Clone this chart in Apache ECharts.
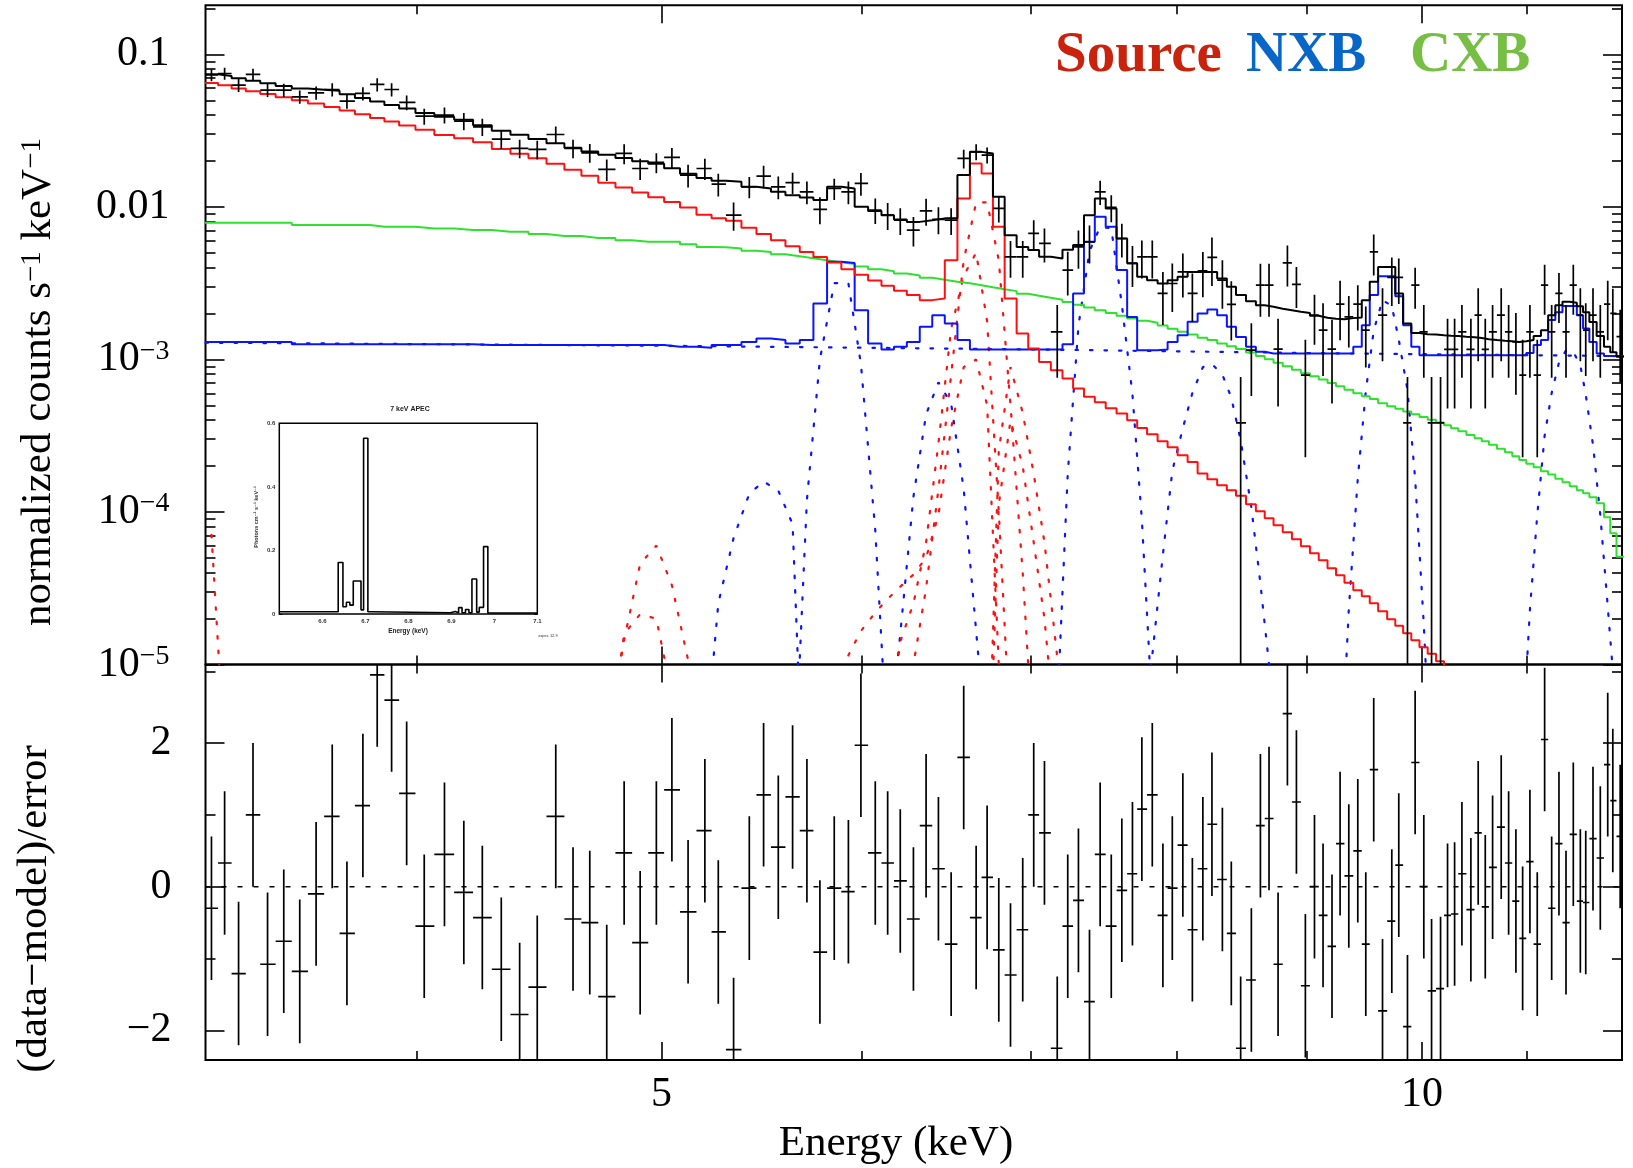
<!DOCTYPE html>
<html>
<head>
<meta charset="utf-8">
<title>Spectrum with residuals</title>
<script src="https://cdn.jsdelivr.net/npm/echarts@6/dist/echarts.min.js"></script>
<style>
  html, body { margin: 0; padding: 0; background: #fff; }
  #chart { width: 1633px; height: 1168px; }
</style>
</head>
<body>
<div id="chart"></div>
<script>
// Spectrum (normalized counts s^-1 keV^-1) with source / NXB / CXB models,
// residual panel below and the small 7 keV APEC inset.
// Model and data levels are kept as log10(counts s^-1 keV^-1).

// bin centres (keV)
const binEnergy = [
  3.318, 3.358, 3.401, 3.446, 3.492, 3.544, 3.596, 3.650, 3.704, 3.754, 3.809, 3.859, 3.910, 3.964, 4.028, 4.103,
  4.176, 4.247, 4.321, 4.394, 4.465, 4.541, 4.613, 4.684, 4.757, 4.833, 4.904, 4.977, 5.048, 5.123, 5.202, 5.266,
  5.340, 5.417, 5.488, 5.562, 5.635, 5.709, 5.777, 5.853, 5.929, 5.997, 6.076, 6.145, 6.216, 6.291, 6.364, 6.436,
  6.511, 6.586, 6.661, 6.728, 6.800, 6.873, 6.950, 7.020, 7.089, 7.172, 7.241, 7.312, 7.386, 7.458, 7.534, 7.607,
  7.681, 7.747, 7.821, 7.897, 7.965, 8.042, 8.112, 8.190, 8.258, 8.337, 8.405, 8.477, 8.560, 8.631, 8.699, 8.771,
  8.846, 8.919, 8.992, 9.067, 9.138, 9.213, 9.281, 9.355, 9.432, 9.501, 9.570, 9.647, 9.729, 9.791, 9.869, 9.938,
  10.017, 10.088, 10.171, 10.236, 10.302, 10.371, 10.456, 10.526, 10.594, 10.665, 10.749, 10.822, 10.894, 10.961,
  11.034, 11.108, 11.183, 11.255, 11.330, 11.403, 11.479, 11.553, 11.610, 11.687, 11.765, 11.845, 11.900, 11.980
];

// observed spectrum, log10 value and relative 1-sigma error
const logData = [
  -1.135, -1.125, -1.201, -1.131, -1.234, -1.234, -1.278, -1.252, -1.230, -1.306, -1.256, -1.197, -1.230, -1.315, -1.405, -1.398,
  -1.437, -1.475, -1.555, -1.616, -1.623, -1.525, -1.616, -1.645, -1.754, -1.649, -1.748, -1.708, -1.675, -1.791, -1.748, -1.850,
  -2.054, -1.868, -1.798, -1.868, -1.840, -1.901, -2.016, -1.879, -1.901, -1.846, -2.021, -2.054, -2.087, -2.152, -2.026, -2.082,
  -2.087, -1.682, -1.639, -1.660, -2.010, -2.327, -2.327, -2.174, -2.239, -2.819, -2.414, -2.262, -2.229, -1.901, -2.003, -2.207,
  -2.370, -2.327, -2.327, -2.567, -2.502, -2.426, -2.567, -2.419, -2.331, -2.480, -2.639, -3.416, -2.939, -2.513, -2.513, -2.932,
  -2.367, -2.508, -3.103, -2.710, -2.808, -2.932, -2.637, -2.721, -2.637, -2.808, -2.294, -2.710, -2.462, -2.462, -3.416, -2.513,
  -2.819, -3.416, -3.416, -2.934, -2.934, -2.819, -2.934, -2.710, -2.934, -2.819, -2.710, -2.819, -2.885, -3.103,
  -2.819, -3.103, -2.513, -2.819, -2.567, -2.819, -2.513, -2.710, -2.808, -2.710, -2.819, -2.637, -2.698, -2.850
];
const dataErrFrac = [
  0.09, 0.09, 0.10, 0.09, 0.10, 0.10, 0.10, 0.10, 0.10, 0.11, 0.10, 0.10, 0.10, 0.11, 0.12, 0.12,
  0.13, 0.13, 0.14, 0.14, 0.14, 0.13, 0.14, 0.14, 0.16, 0.15, 0.16, 0.15, 0.15, 0.17, 0.16, 0.17,
  0.21, 0.16, 0.17, 0.17, 0.16, 0.17, 0.20, 0.16, 0.17, 0.17, 0.19, 0.20, 0.20, 0.22, 0.20, 0.20,
  0.20, 0.14, 0.12, 0.12, 0.19, 0.27, 0.27, 0.22, 0.25, 0.50, 0.32, 0.28, 0.28, 0.18, 0.20, 0.25,
  0.30, 0.28, 0.28, 0.38, 0.35, 0.32, 0.35, 0.33, 0.35, 0.35, 0.42, 1.00, 0.50, 0.38, 0.38, 0.58,
  0.30, 0.30, 0.71, 0.36, 0.50, 0.56, 0.42, 0.37, 0.33, 0.43, 0.30, 0.50, 0.35, 0.33, 1.00, 0.30,
  0.50, 1.00, 1.00, 0.59, 0.59, 0.50, 0.59, 0.50, 0.59, 0.50, 0.50, 0.50, 0.55, 0.71,
  0.50, 0.71, 0.36, 0.50, 0.36, 0.50, 0.36, 0.50, 0.50, 0.50, 0.50, 0.42, 0.45, 0.50
];

// (data - model) / error
const residual = [
  -0.30, 0.33, -1.21, 1.00, -1.08, -0.76, -1.18, -0.10, 0.98, -0.65, 1.13, 2.95, 2.60, 1.30, -0.55, 0.45,
  -0.08, -0.43, -1.15, -1.78, -1.40, 0.98, -0.45, -0.50, -1.53, 0.47, -0.78, 0.47, 1.35, -0.35, 0.78, -0.63,
  -2.27, -0.02, 1.28, 0.55, 1.25, 0.78, -0.91, -0.02, -0.07, 1.97, 0.47, 0.33, 0.08, -0.45, 0.85, 0.25,
  -0.80, 1.80, -0.43, 0.13, -0.88, -1.23, -0.60, 1.00, 0.75, -2.25, -0.55, -0.19, -1.60, 0.45, -0.55, -0.05,
  0.18, 1.08, 1.28, -0.40, -0.02, 0.58, -0.60, 0.25, 0.87, 0.10, -0.65, -2.25, -1.30, 0.85, 0.95, -1.08,
  2.41, 1.18, -1.38, 0.00, -0.40, -0.83, 0.60, 0.15, 0.50, -0.80, 1.63, -1.73, -0.48, 0.30, -1.95, 1.73,
  0.00, -1.45, -1.42, -0.40, -0.38, 0.18, -0.32, 0.75, -0.28, 0.27, 0.83, 0.33, -0.20, -0.72,
  0.35, -0.80, 2.05, -0.30, 0.60, -0.50, 0.73, -0.20, -0.22, 0.67, 0.40, 1.70, 1.20, 0.70
];

// folded models per bin (log10)
const logTotal = [
  -1.130, -1.141, -1.156, -1.172, -1.189, -1.207, -1.224, -1.231, -1.239, -1.261, -1.285, -1.308, -1.332, -1.355, -1.384, -1.409,
  -1.429, -1.464, -1.500, -1.526, -1.555, -1.583, -1.612, -1.636, -1.658, -1.679, -1.700, -1.717, -1.746, -1.782, -1.811, -1.828,
  -1.835, -1.868, -1.879, -1.901, -1.923, -1.938, -1.955, -1.868, -1.879, -1.999, -2.026, -2.054, -2.082, -2.098, -2.087, -2.075,
  -2.075, -1.791, -1.639, -1.650, -1.934, -2.185, -2.262, -2.283, -2.327, -2.338, -2.280, -2.250, -2.054, -1.944, -2.010, -2.207,
  -2.370, -2.458, -2.480, -2.502, -2.480, -2.458, -2.426, -2.426, -2.426, -2.469, -2.524, -2.578, -2.618, -2.644, -2.654, -2.667,
  -2.677, -2.687, -2.696, -2.713, -2.726, -2.733, -2.736, -2.729, -2.725, -2.611, -2.491, -2.393, -2.393, -2.567, -2.764, -2.826,
  -2.834, -2.837, -2.841, -2.844, -2.847, -2.851, -2.854, -2.860, -2.867, -2.873, -2.877, -2.880, -2.885, -2.880,
  -2.873, -2.847, -2.808, -2.710, -2.644, -2.622, -2.628, -2.651, -2.690, -2.755, -2.847, -2.917, -2.952, -2.983
];
const logSource = [
  -1.187, -1.203, -1.223, -1.241, -1.260, -1.281, -1.301, -1.322, -1.344, -1.368, -1.393, -1.417, -1.440, -1.466, -1.494, -1.528,
  -1.549, -1.576, -1.620, -1.651, -1.680, -1.717, -1.756, -1.796, -1.841, -1.873, -1.905, -1.937, -1.968, -2.004, -2.051, -2.075,
  -2.090, -2.136, -2.178, -2.218, -2.257, -2.296, -2.329, -2.365, -2.408, -2.444, -2.483, -2.516, -2.549, -2.578, -2.611, -2.600,
  -2.349, -1.944, -1.715, -1.780, -2.130, -2.600, -2.830, -2.928, -3.016, -3.070, -3.125, -3.190, -3.245, -3.280, -3.320, -3.354,
  -3.398, -3.450, -3.490, -3.536, -3.575, -3.628, -3.673, -3.748, -3.785, -3.824, -3.857, -3.894, -3.949, -3.995, -4.041, -4.087,
  -4.133, -4.179, -4.225, -4.270, -4.316, -4.369, -4.415, -4.464, -4.513, -4.552, -4.598, -4.651, -4.703, -4.746, -4.795, -4.841,
  -4.887, -4.929, -4.978, -5.018, -5.057
];
const logCxb = [
  -2.104, -2.104, -2.104, -2.104, -2.104, -2.104, -2.119, -2.119, -2.119, -2.119, -2.119, -2.130, -2.130, -2.130, -2.141, -2.141,
  -2.152, -2.152, -2.163, -2.163, -2.178, -2.191, -2.191, -2.203, -2.203, -2.218, -2.229, -2.229, -2.229, -2.244, -2.262, -2.264,
  -2.273, -2.287, -2.296, -2.310, -2.323, -2.336, -2.349, -2.362, -2.375, -2.391, -2.408, -2.421, -2.437, -2.450, -2.464, -2.477,
  -2.490, -2.500, -2.513, -2.526, -2.539, -2.552, -2.569, -2.582, -2.595, -2.608, -2.624, -2.641, -2.660, -2.677, -2.696, -2.713,
  -2.731, -2.746, -2.759, -2.778, -2.798, -2.818, -2.837, -2.857, -2.873, -2.896, -2.913, -2.932, -2.955, -2.978, -2.998, -3.021,
  -3.044, -3.067, -3.090, -3.110, -3.132, -3.155, -3.175, -3.198, -3.221, -3.241, -3.260, -3.287, -3.306, -3.323, -3.342, -3.359,
  -3.378, -3.395, -3.414, -3.431, -3.451, -3.470, -3.496, -3.516, -3.536, -3.559, -3.585, -3.608, -3.634, -3.660,
  -3.683, -3.706, -3.733, -3.755, -3.782, -3.805, -3.831, -3.857, -3.877, -3.903, -3.942, -4.034, -4.139, -4.294
];
const logNxb = [
  -2.885, -2.885, -2.885, -2.885, -2.885, -2.885, -2.900, -2.900, -2.900, -2.900, -2.900, -2.900, -2.900, -2.900, -2.900, -2.900,
  -2.900, -2.906, -2.906, -2.906, -2.906, -2.906, -2.906, -2.906, -2.906, -2.906, -2.906, -2.906, -2.917, -2.917, -2.924, -2.906,
  -2.906, -2.885, -2.862, -2.873, -2.895, -2.873, -2.633, -2.360, -2.367, -2.677, -2.895, -2.934, -2.917, -2.885, -2.786, -2.710,
  -2.764, -2.873, -2.934, -2.934, -2.934, -2.934, -2.934, -2.934, -2.934, -2.934, -2.900, -2.567, -2.229, -2.065, -2.130, -2.414,
  -2.721, -2.939, -2.939, -2.934, -2.885, -2.841, -2.753, -2.698, -2.672, -2.710, -2.786, -2.852, -2.917, -2.950, -2.961, -2.961,
  -2.961, -2.961, -2.961, -2.961, -2.961, -2.961, -2.961, -2.961, -2.917, -2.775, -2.578, -2.454, -2.454, -2.585, -2.775, -2.917,
  -2.972, -2.972, -2.972, -2.972, -2.972, -2.972, -2.972, -2.972, -2.972, -2.972, -2.972, -2.972, -2.972, -2.972,
  -2.957, -2.906, -2.873, -2.742, -2.690, -2.650, -2.650, -2.710, -2.797, -2.885, -2.961, -2.978, -2.978, -2.978
];

// NXB continuum component (dotted), read at a few energies
const nxbContEnergy = [3.3, 5.0, 7.0, 9.0, 12.0];
const nxbContLog = [-2.890, -2.910, -2.934, -2.958, -2.978];

// single line components (dotted), log10 values on consecutive bins starting at `from`
const srcArTail = { from: 0, log: [-4.15, -5.6] };
const srcCaA = { from: 24, log: [-5.5, -4.84, -4.34, -4.22, -4.48, -4.97, -5.6] };
const srcCaB = { from: 24, log: [-5.6, -4.80, -4.67, -4.70, -5.2] };
const srcFeW = { from: 44, log: [-5.5, -5.0, -4.5, -3.85, -3.1, -2.35, -1.97, -1.97, -2.35, -3.3, -4.4, -5.6] };
const srcFeZ = { from: 43, log: [-5.5, -4.85, -4.6, -4.2, -3.55, -2.8, -2.45, -2.3, -2.75, -4.0, -5.5] };
const srcFeSat = { from: 39, log: [-5.6, -4.94, -4.78, -4.66, -4.57, -4.49, -4.41, -4.30, -4.02, -3.45, -3.05, -3.0, -3.3, -5.0, -6.0] };
const srcFeLya1 = { from: 51, log: [-6.0, -3.60, -3.05, -3.35, -3.75, -4.20, -4.95, -5.8] };
const srcFeLya2 = { from: 51, log: [-6.2, -3.95, -3.40, -3.70, -4.20, -4.70, -5.6] };
const nxbBroad = { from: 30, log: [-5.6, -4.60, -4.17, -3.88, -3.80, -3.86, -4.08, -6.5] };
const nxbMnKa = { from: 36, log: [-6.0, -3.92, -3.00, -2.50, -2.50, -3.03, -4.12, -5.58] };
const nxbFeKa = { from: 43, log: [-5.6, -4.80, -3.90, -3.36, -3.15, -3.29, -3.85, -4.78, -5.6] };
const nxbNiKa = { from: 57, log: [-5.3, -3.75, -2.78, -2.29, -2.13, -2.14, -2.64, -3.23, -4.05, -5.3] };
const nxbNiKb = { from: 65, log: [-5.3, -4.94, -4.28, -3.73, -3.45, -3.22, -3.05, -3.03, -3.10, -3.25, -3.53, -3.97, -4.47, -5.0, -5.6] };
const nxbAuLa = { from: 86, log: [-5.8, -4.64, -3.78, -3.21, -2.81, -2.61, -2.65, -2.87, -3.20, -3.78, -4.74, -5.8] };
const nxbAuLb = { from: 109, log: [-5.5, -4.64, -4.02, -3.50, -3.22, -3.02, -2.94, -2.95, -3.04, -3.23, -3.56, -4.02, -4.62, -5.04, -5.5] };

// inset: 7 keV APEC model, bin edges (keV) and photons cm^-2 s^-1 keV^-1
const apecEdge = [6.500, 6.637, 6.648, 6.656, 6.664, 6.672, 6.690, 6.696, 6.706, 6.714, 6.898,
                  6.909, 6.917, 6.925, 6.933, 6.941, 6.948, 6.959, 6.965, 6.975, 6.985, 7.100];
const apecFlux = [0.007, 0.162, 0.023, 0.037, 0.028, 0.104, 0.013, 0.553, 0.007, 0.004,
                  0.008, 0.004, 0.020, 0.004, 0.014, 0.004, 0.110, 0.006, 0.021, 0.212, 0.003];

// axis ranges and ticks
const energyRange = [3.3, 12.0];
const countDecades = [-5, -4, -3, -2, -1];
const countTop = -0.678;
const residRange = [-2.414, 3.095];
const energyMajor = [5, 10];
const energyMinor = [4, 6, 7, 8, 9, 11];
const residMajor = [-2, 0, 2];
const residMinor = [-1, 1, 3];

const SERIF = '"Liberation Serif", "DejaVu Serif", "Times New Roman", serif';
const SANS = '"Liberation Sans", "DejaVu Sans", Arial, sans-serif';
const RED = '#ff1010', BLUE = '#0a14ff', GREEN = '#30e030';

const lg = Math.log10;
const n = binEnergy.length;
const lx = binEnergy.map(lg);
const lo = [], hi = [];
for (let i = 0; i < n; i++) {
    lo.push(i > 0 ? (lx[i - 1] + lx[i]) / 2 : lx[0] - (lx[1] - lx[0]) / 2);
    hi.push(i < n - 1 ? (lx[i] + lx[i + 1]) / 2 : lx[n - 1] + (lx[n - 1] - lx[n - 2]) / 2);
}

function stepPoints(vals) {
    const pts = [];
    for (let i = 0; i < vals.length && i < n; i++) {
        pts.push([lo[i], vals[i]], [hi[i], vals[i]]);
    }
    return pts;
}

function compPoints(c) {
    return c.log.map((v, k) => [lx[c.from + k], v]);
}

const countMinor = [];
countDecades.forEach(d => {
    for (let k = 2; k <= 9; k++) {
        const v = d + lg(k);
        if (v < countTop) countMinor.push(v);
    }
});

function tickAxis(gridIndex, position, min, max, ticks, len, extra) {
    return Object.assign({
        type: 'value', gridIndex: gridIndex, position: position, min: min, max: max,
        axisLine: { show: false, onZero: false },
        splitLine: { show: false },
        axisTick: { show: true, inside: true, length: len, customValues: ticks,
                    lineStyle: { color: '#000', width: 1.6 } },
        axisLabel: { show: false }
    }, extra || {});
}

const xMin = lg(energyRange[0]), xMax = lg(energyRange[1]);
const xMaj = energyMajor.map(lg), xMin2 = energyMinor.map(lg);

const xAxes = [
    tickAxis(0, 'bottom', xMin, xMax, xMaj, 18),
    tickAxis(0, 'bottom', xMin, xMax, xMin2, 9),
    tickAxis(0, 'top', xMin, xMax, xMaj, 18),
    tickAxis(0, 'top', xMin, xMax, xMin2, 9),
    tickAxis(1, 'bottom', xMin, xMax, xMaj, 18, {
        axisLabel: {
            show: true, customValues: xMaj, margin: 14,
            formatter: v => String(Math.round(Math.pow(10, v))),
            color: '#000', fontFamily: SERIF, fontSize: 42
        }
    }),
    tickAxis(1, 'bottom', xMin, xMax, xMin2, 9),
    tickAxis(1, 'top', xMin, xMax, xMaj, 18),
    tickAxis(1, 'top', xMin, xMax, xMin2, 9),
    // inset
    {
        type: 'value', gridIndex: 2, position: 'bottom', min: 6.5, max: 7.1, interval: 0.1,
        axisLine: { show: false, onZero: false }, splitLine: { show: false },
        axisTick: { show: true, inside: true, length: 3, lineStyle: { color: '#000', width: 1 } },
        minorTick: { show: true, splitNumber: 5, length: 1.5, lineStyle: { color: '#000', width: 1 } },
        axisLabel: {
            show: true, customValues: [6.6, 6.7, 6.8, 6.9, 7.0, 7.1], margin: 4,
            formatter: v => (Math.abs(v - 7) < 1e-6 ? '7' : v.toFixed(1)),
            color: '#333', fontFamily: SANS, fontWeight: 'bold', fontSize: 6
        }
    },
    {
        type: 'value', gridIndex: 2, position: 'top', min: 6.5, max: 7.1, interval: 0.1,
        axisLine: { show: false, onZero: false }, splitLine: { show: false },
        axisTick: { show: true, inside: true, length: 3, lineStyle: { color: '#000', width: 1 } },
        minorTick: { show: true, splitNumber: 5, length: 1.5, lineStyle: { color: '#000', width: 1 } },
        axisLabel: { show: false }
    }
];

const yAxes = [
    tickAxis(0, 'left', countDecades[0], countTop, countDecades, 19, {
        axisLabel: {
            show: true, customValues: countDecades, margin: 36,
            formatter: function (v) {
                const d = Math.round(v);
                if (d === -1) return '0.1';
                if (d === -2) return '0.01';
                return '{b|10}{s|\u2212' + (-d) + '}';
            },
            color: '#000', fontFamily: SERIF, fontSize: 42,
            rich: {
                b: { fontFamily: SERIF, fontSize: 42, color: '#000', lineHeight: 44 },
                s: { fontFamily: SERIF, fontSize: 28, color: '#000', verticalAlign: 'top', lineHeight: 30 }
            }
        }
    }),
    tickAxis(0, 'left', countDecades[0], countTop, countMinor, 10),
    tickAxis(0, 'right', countDecades[0], countTop, countDecades, 19),
    tickAxis(0, 'right', countDecades[0], countTop, countMinor, 10),
    tickAxis(1, 'left', residRange[0], residRange[1], residMajor, 19, {
        axisLabel: {
            show: true, customValues: residMajor, margin: 34,
            formatter: v => (v < 0 ? '\u2212' + Math.abs(Math.round(v)) : String(Math.round(v))),
            color: '#000', fontFamily: SERIF, fontSize: 42
        }
    }),
    tickAxis(1, 'left', residRange[0], residRange[1], residMinor, 10),
    tickAxis(1, 'right', residRange[0], residRange[1], residMajor, 19),
    tickAxis(1, 'right', residRange[0], residRange[1], residMinor, 10),
    // inset
    {
        type: 'value', gridIndex: 2, position: 'left', min: 0, max: 0.6, interval: 0.1,
        axisLine: { show: false, onZero: false }, splitLine: { show: false },
        axisTick: { show: true, inside: true, length: 3, lineStyle: { color: '#000', width: 1 } },
        axisLabel: {
            show: true, customValues: [0, 0.2, 0.4, 0.6], margin: 4,
            formatter: v => (v === 0 ? '0' : v.toFixed(1)),
            color: '#333', fontFamily: SANS, fontWeight: 'bold', fontSize: 6
        }
    },
    {
        type: 'value', gridIndex: 2, position: 'right', min: 0, max: 0.6, interval: 0.1,
        axisLine: { show: false, onZero: false }, splitLine: { show: false },
        axisTick: { show: true, inside: true, length: 3, lineStyle: { color: '#000', width: 1 } },
        axisLabel: { show: false }
    }
];

function dotted(name, comp, color) {
    return {
        name: name, type: 'line', xAxisIndex: 0, yAxisIndex: 0, data: compPoints(comp),
        symbol: 'none', silent: true, clip: true, z: 2,
        lineStyle: { color: color, width: 2.2, type: [2.5, 12], cap: 'round' }
    };
}

function stepSeries(name, vals, color, z) {
    return {
        name: name, type: 'line', xAxisIndex: 0, yAxisIndex: 0, data: stepPoints(vals),
        symbol: 'none', silent: true, clip: true, z: z,
        lineStyle: { color: color, width: 2 }
    };
}

// data crosses for the upper panel
const crossData = [];
for (let i = 0; i < n; i++) {
    const f = dataErrFrac[i];
    const up = logData[i] + lg(1 + f);
    const down = f < 1 ? logData[i] + lg(1 - f) : -9;
    crossData.push([lx[i], logData[i], lo[i], hi[i], down, up]);
}
const residData = [];
for (let i = 0; i < n; i++) {
    residData.push([lx[i], residual[i], lo[i], hi[i], residual[i] - 1, residual[i] + 1]);
}

function crossRender(params, api) {
    const xc = api.value(0), y = api.value(1);
    const a = api.coord([api.value(2), y]);
    const b = api.coord([api.value(3), y]);
    const c = api.coord([xc, api.value(4)]);
    const d = api.coord([xc, api.value(5)]);
    const st = { stroke: '#000', lineWidth: 1.7 };
    return {
        type: 'group',
        children: [
            { type: 'line', shape: { x1: a[0], y1: a[1], x2: b[0], y2: b[1] }, style: st },
            { type: 'line', shape: { x1: c[0], y1: c[1], x2: d[0], y2: d[1] }, style: st }
        ]
    };
}

const apecPoints = [];
for (let i = 0; i < apecFlux.length; i++) {
    apecPoints.push([apecEdge[i], apecFlux[i]], [apecEdge[i + 1], apecFlux[i]]);
}

const series = [
    // NXB continuum (dotted)
    {
        type: 'line', xAxisIndex: 0, yAxisIndex: 0,
        data: nxbContEnergy.map((e, i) => [lg(e), nxbContLog[i]]),
        symbol: 'none', silent: true, clip: true, z: 2,
        lineStyle: { color: BLUE, width: 2.2, type: [2.5, 12], cap: 'round' }
    },
    dotted('NXB broad', nxbBroad, BLUE),
    dotted('NXB Mn', nxbMnKa, BLUE),
    dotted('NXB Fe', nxbFeKa, BLUE),
    dotted('NXB Ni Ka', nxbNiKa, BLUE),
    dotted('NXB Ni Kb', nxbNiKb, BLUE),
    dotted('NXB Au La', nxbAuLa, BLUE),
    dotted('NXB Au Lb', nxbAuLb, BLUE),
    dotted('Src Ar', srcArTail, RED),
    dotted('Src Ca a', srcCaA, RED),
    dotted('Src Ca b', srcCaB, RED),
    dotted('Src Fe sat', srcFeSat, RED),
    dotted('Src Fe z', srcFeZ, RED),
    dotted('Src Fe w', srcFeW, RED),
    dotted('Src Fe Lya1', srcFeLya1, RED),
    dotted('Src Fe Lya2', srcFeLya2, RED),
    stepSeries('CXB', logCxb, GREEN, 3),
    stepSeries('NXB', logNxb, BLUE, 3),
    stepSeries('Source', logSource, RED, 4),
    stepSeries('Total', logTotal, '#000', 5),
    {
        name: 'data', type: 'custom', xAxisIndex: 0, yAxisIndex: 0, clip: true, silent: true, z: 6,
        data: crossData, encode: { x: 0, y: 1 }, renderItem: crossRender
    },
    // residual panel
    {
        type: 'line', xAxisIndex: 4, yAxisIndex: 4, data: [[xMin, 0], [xMax, 0]],
        symbol: 'none', silent: true, z: 2,
        lineStyle: { color: '#000', width: 1.6, type: [5, 11] }
    },
    {
        name: 'residual', type: 'custom', xAxisIndex: 4, yAxisIndex: 4, clip: true, silent: true, z: 6,
        data: residData, encode: { x: 0, y: 1 }, renderItem: crossRender
    },
    // inset
    {
        type: 'line', xAxisIndex: 8, yAxisIndex: 8, data: apecPoints,
        symbol: 'none', silent: true, clip: true, z: 10,
        lineStyle: { color: '#000', width: 1.6 }
    }
];

function label(x, y, text, size, opts) {
    return Object.assign({
        type: 'text', x: x, y: y, silent: true, z: 50,
        style: Object.assign({
            text: text, fill: '#000', fontFamily: SERIF, fontSize: size,
            align: 'center', verticalAlign: 'middle',
            textAlign: 'center', textVerticalAlign: 'middle'
        }, (opts && opts.style) || {})
    }, (opts && opts.el) || {});
}

const supRich = { s: { fontFamily: SERIF, fontSize: 29, fill: '#000', color: '#000', verticalAlign: 'top', lineHeight: 30 } };

const graphics = [
    label(39, 382, 'normalized counts s{s|\u22121} keV{s|\u22121}', 43,
          { el: { rotation: Math.PI / 2 }, style: { rich: supRich } }),
    label(35, 909, '(data\u2212model)/error', 43, { el: { rotation: Math.PI / 2 } }),
    label(896, 1144, 'Energy (keV)', 43),
    label(1055, 56, 'Source', 57, { style: { fill: '#c9230d', fontWeight: 'bold', align: 'left', textAlign: 'left' } }),
    label(1246, 56, 'NXB', 57, { style: { fill: '#0866c6', fontWeight: 'bold', align: 'left', textAlign: 'left' } }),
    label(1410, 56, 'CXB', 57, { style: { fill: '#76be44', fontWeight: 'bold', align: 'left', textAlign: 'left' } }),
    // inset texts
    label(410, 409, '7 keV APEC', 7, { style: { fontFamily: SANS, fontWeight: 'bold', fill: '#222' } }),
    label(256, 517, 'Photons cm\u207B\u00B2 s\u207B\u00B9 keV\u207B\u00B9', 5.5,
          { el: { rotation: Math.PI / 2 }, style: { fontFamily: SANS, fontWeight: 'bold', fill: '#333' } }),
    label(408, 631, 'Energy (keV)', 6.5, { style: { fontFamily: SANS, fontWeight: 'bold', fill: '#222' } }),
    label(548, 636, 'xspec 12.9', 4, { style: { fontFamily: SANS, fill: '#333' } })
];

const chart = echarts.init(document.getElementById('chart'), null, { renderer: 'canvas' });
chart.setOption({
    animation: false,
    backgroundColor: '#fff',
    grid: [
        { left: 205.5, top: 5.3, width: 1416.5, height: 659.2, show: true, borderColor: '#000', borderWidth: 2, backgroundColor: 'transparent' },
        { left: 205.5, top: 664.5, width: 1416.5, height: 395.5, show: true, borderColor: '#000', borderWidth: 2, backgroundColor: 'transparent' },
        { left: 279.3, top: 423.3, width: 258, height: 190.7, show: true, borderColor: '#000', borderWidth: 1.5, backgroundColor: '#fff', z: 8 }
    ],
    xAxis: xAxes,
    yAxis: yAxes,
    series: series,
    graphic: graphics
});
</script>
</body>
</html>
